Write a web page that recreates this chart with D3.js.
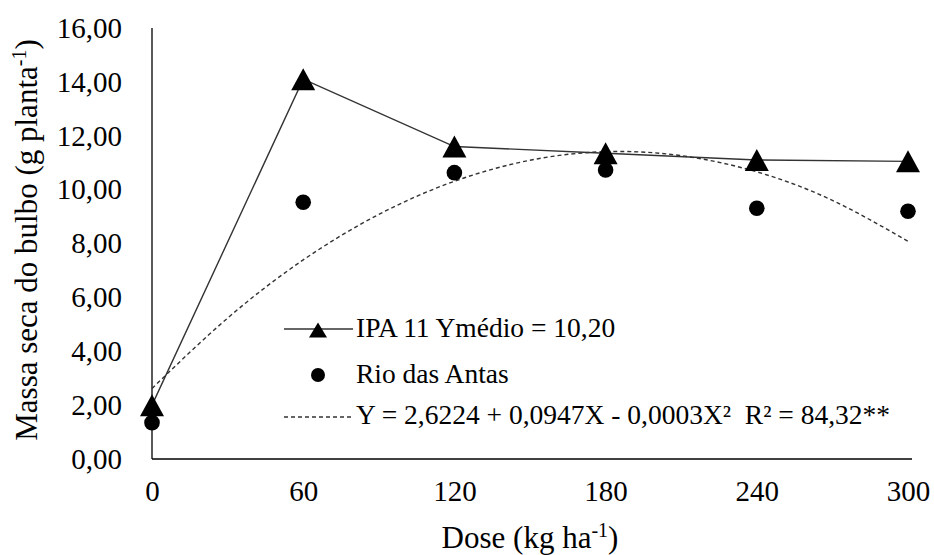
<!DOCTYPE html>
<html>
<head>
<meta charset="utf-8">
<script src="https://cdn.jsdelivr.net/npm/d3@7"></script>
<style>
  html, body { margin: 0; padding: 0; background: #fff; }
  svg { display: block; }
  svg text { font-family: "Liberation Serif", Tinos, "Times New Roman", Times, "DejaVu Serif", serif; fill: #000; }
</style>
</head>
<body>
<svg id="chart" width="934" height="555"></svg>
<script>
// ---- data ----
const doses = [0, 60, 120, 180, 240, 300];
const ipa11 = [2.0, 14.1, 11.6, 11.35, 11.1, 11.05];
const rioDasAntas = [1.35, 9.53, 10.63, 10.73, 9.31, 9.2];
const trendX = [0, 30, 60, 90, 120, 150, 180, 210, 240, 270, 300];
const trendY = [2.62, 5.23, 7.39, 9.08, 10.31, 11.09, 11.41, 11.26, 10.66, 9.60, 8.08];
const xTicks = [0, 60, 120, 180, 240, 300];
const yTicks = [0, 2, 4, 6, 8, 10, 12, 14, 16];
const legendLabels = ["IPA 11 Ymédio = 10,20", "Rio das Antas", "Y = 2,6224 + 0,0947X - 0,0003X²  R² = 84,32**"];

// ---- layout ----
const FONT = '"Liberation Serif", Tinos, "Times New Roman", Times, "DejaVu Serif", serif';
const svg = d3.select("#chart");
const x = d3.scaleLinear().domain([0, 300]).range([152, 908]);
const y = d3.scaleLinear().domain([0, 16]).range([459, 28]);
const loc = d3.formatLocale({ decimal: ",", thousands: ".", grouping: [3], currency: ["", ""] });
const fmt = loc.format(".2f");

// axes lines
svg.append("line").attr("x1", x(0)).attr("x2", x(0)).attr("y1", y(16)).attr("y2", y(0))
  .attr("stroke", "#000").attr("stroke-width", 1.3);
svg.append("line").attr("x1", x(0)).attr("x2", x(300) + 4).attr("y1", y(0)).attr("y2", y(0))
  .attr("stroke", "#000").attr("stroke-width", 1.3);

// y axis labels
const yAxis = d3.axisLeft(y).tickValues(yTicks).tickFormat(fmt).tickSize(0).tickPadding(30);
const gy = svg.append("g").attr("transform", `translate(${x(0)},0)`).call(yAxis)
  .attr("font-family", FONT).attr("font-size", 29);
gy.select(".domain").remove();
gy.selectAll("text").attr("fill", "#000");

// x axis labels
const xAxis = d3.axisBottom(x).tickValues(xTicks).tickFormat(d => d).tickSize(0).tickPadding(21);
const gx = svg.append("g").attr("transform", `translate(0,${y(0)})`).call(xAxis)
  .attr("font-family", FONT).attr("font-size", 29);
gx.select(".domain").remove();
gx.selectAll("text").attr("fill", "#000");

// axis titles
const xt = svg.append("text").attr("x", (x(0) + x(300)) / 2).attr("y", 548)
  .attr("text-anchor", "middle").attr("font-size", 31);
xt.append("tspan").text("Dose (kg ha");
xt.append("tspan").attr("font-size", 20).attr("dy", -11).text("-1");
xt.append("tspan").attr("dy", 11).text(")");

const yt = svg.append("text").attr("transform", "translate(37,240) rotate(-90)")
  .attr("text-anchor", "middle").attr("font-size", 31);
yt.append("tspan").text("Massa seca do bulbo (g planta");
yt.append("tspan").attr("font-size", 20).attr("dy", -11).text("-1");
yt.append("tspan").attr("dy", 11).text(")");

// trend curve (dashed)
const trendPts = trendX.map((d, i) => [d, trendY[i]]);
svg.append("path").datum(trendPts)
  .attr("d", d3.line().x(d => x(d[0])).y(d => y(d[1])).curve(d3.curveNatural))
  .attr("fill", "none").attr("stroke", "#333").attr("stroke-width", 1.4)
  .attr("stroke-dasharray", "4,3");

// IPA 11 line
const ipaPts = doses.map((d, i) => [d, ipa11[i]]);
svg.append("path").datum(ipaPts)
  .attr("d", d3.line().x(d => x(d[0])).y(d => y(d[1])))
  .attr("fill", "none").attr("stroke", "#333").attr("stroke-width", 1.4);

// triangle shape
function tri(w, h) {
  return `M0,${-h / 2}L${w / 2},${h / 2}L${-w / 2},${h / 2}Z`;
}

// Rio das Antas dots
svg.append("g").selectAll("circle").data(doses.map((d, i) => [d, rioDasAntas[i]])).join("circle")
  .attr("cx", d => x(d[0])).attr("cy", d => y(d[1])).attr("r", 7.8).attr("fill", "#000");

// IPA triangles
svg.append("g").selectAll("path").data(ipaPts).join("path")
  .attr("transform", d => `translate(${x(d[0])},${y(d[1])})`)
  .attr("d", tri(24, 22)).attr("fill", "#000");

// legend
const lg = svg.append("g");
lg.append("line").attr("x1", 284).attr("x2", 353).attr("y1", 329).attr("y2", 329)
  .attr("stroke", "#333").attr("stroke-width", 1.4);
lg.append("path").attr("transform", "translate(318,330)").attr("d", tri(18, 15)).attr("fill", "#000");
lg.append("text").attr("x", 356).attr("y", 337).attr("font-size", 27.5).text(legendLabels[0]);

lg.append("circle").attr("cx", 318).attr("cy", 375).attr("r", 7).attr("fill", "#000");
lg.append("text").attr("x", 356).attr("y", 383).attr("font-size", 27.5).text(legendLabels[1]);

lg.append("line").attr("x1", 284).attr("x2", 353).attr("y1", 417).attr("y2", 417)
  .attr("stroke", "#333").attr("stroke-width", 1.4).attr("stroke-dasharray", "4,3");
lg.append("text").attr("x", 356).attr("y", 424).attr("font-size", 27.5)
  .style("white-space", "pre").text(legendLabels[2]);
</script>
</body>
</html>
